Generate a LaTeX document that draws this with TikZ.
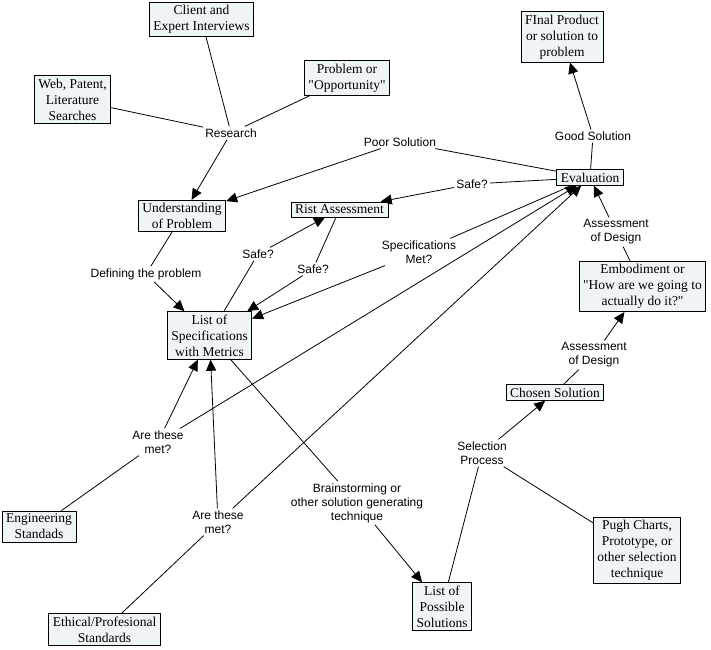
\documentclass[tikz,border=0pt]{standalone}
\usepackage{fontspec}
\setmainfont{Liberation Serif}
\newfontfamily\linkfont{Liberation Sans}
\usetikzlibrary{arrows.meta}
\definecolor{conceptfill}{RGB}{239,245,247}
\tikzset{>={Triangle[length=11pt,width=10pt]}}

\begin{document}
\begin{tikzpicture}[
  x=1pt,y=-1pt,       % pixel grid, y going down
  concept/.style={draw,fill=conceptfill,line width=0.8pt,align=center,
    inner xsep=4pt,inner ysep=3pt,font=\fontsize{13.5}{16}\selectfont},
  phrase/.style={align=center,inner sep=2pt,font=\linkfont\fontsize{12}{14}\selectfont},
  link/.style={line width=0.8pt}
  ]
  \useasboundingbox (0,0) rectangle (711,649);
  % concepts
  \node[concept] (client) at (201.5,19.5) {Client and\\Expert Interviews};
  \node[concept] (web) at (72.5,99.5) {Web, Patent,\\Literature\\Searches};
  \node[concept] (problem) at (347,78) {Problem or\\\textquotedbl Opportunity\textquotedbl};
  \node[concept] (underst) at (182,216) {Understanding\\of Problem};
  \node[concept] (rist) at (339.5,209.5) {Rist Assessment};
  \node[concept] (final) at (562,37) {FInal Product\\or solution to\\problem};
  \node[concept] (evaluation) at (590,177.5) {Evaluation};
  \node[concept] (embodiment) at (642.5,286.5) {Embodiment or\\\textquotedbl How are we going to\\actually do it?\textquotedbl};
  \node[concept] (specs) at (209.5,335.5) {List of\\Specifications\\with Metrics};
  \node[concept] (eng) at (39,526.5) {Engineering\\Standads};
  \node[concept] (ethical) at (104.5,629.5) {Ethical/Profesional\\Standards};
  \node[concept] (possible) at (442,606.5) {List of\\Possible\\Solutions};
  \node[concept] (chosen) at (555,392.5) {Chosen Solution};
  \node[concept] (pugh) at (637,550.5) {Pugh Charts,\\Prototype, or\\other selection\\technique};
  % linking phrases
  \node[phrase] (research) at (231,133) {Research};
  \node[phrase] (poor) at (400,142) {Poor Solution};
  \node[phrase] (good) at (593,136) {Good Solution};
  \node[phrase] (safetop) at (472,184) {Safe?};
  \node[phrase] (specmet) at (419,252) {Specifications\\Met?};
  \node[phrase] (assessup) at (616,232) {Assessment\\of Design};
  \node[phrase] (safel) at (258,254) {Safe?};
  \node[phrase] (safer) at (313,269) {Safe?};
  \node[phrase] (defining) at (146,274) {Defining the problem};
  \node[phrase] (arel) at (158,442) {Are these\\met?};
  \node[phrase] (arem) at (218,522) {Are these\\met?};
  \node[phrase] (brain) at (357,503) {Brainstorming or\\other solution generating\\technique};
  \node[phrase] (assesslow) at (594,355) {Assessment\\of Design};
  \node[phrase] (selection) at (482,453) {Selection\\Process};
  % connectors
  \draw[link] (client) -- (research);
  \draw[link] (web) -- (research);
  \draw[link] (problem) -- (research);
  \draw[link,->] (research) -- (underst);
  \draw[link] (evaluation) -- (poor);
  \draw[link,->] (poor) -- (underst);
  \draw[link] (underst) -- (defining);
  \draw[link,->] (defining) -- (specs);
  \draw[link] (specs) -- (safel);
  \draw[link,->] (safel) -- (rist);
  \draw[link] (rist) -- (safer);
  \draw[link,->] (safer) -- (specs);
  \draw[link] (evaluation) -- (safetop);
  \draw[link,->] (safetop) -- (rist);
  \draw[link] (evaluation) -- (specmet);
  \draw[link,->] (specmet) -- (specs);
  \draw[link] (eng) -- (arel);
  \draw[link,->] (arel) -- (specs);
  \draw[link,->] (arel) -- (evaluation);
  \draw[link] (ethical) -- (arem);
  \draw[link,->] (arem) -- (specs);
  \draw[link,->] (arem) -- (evaluation);
  \draw[link] (specs) -- (brain);
  \draw[link,->] (brain) -- (possible);
  \draw[link] (possible) -- (selection);
  \draw[link] (pugh) -- (selection);
  \draw[link,->] (selection) -- (chosen);
  \draw[link] (chosen) -- (assesslow);
  \draw[link,->] (assesslow) -- (embodiment);
  \draw[link] (embodiment) -- (assessup);
  \draw[link,->] (assessup) -- (evaluation);
  \draw[link] (evaluation) -- (good);
  \draw[link,->] (good) -- (final);
\end{tikzpicture}
\end{document}
